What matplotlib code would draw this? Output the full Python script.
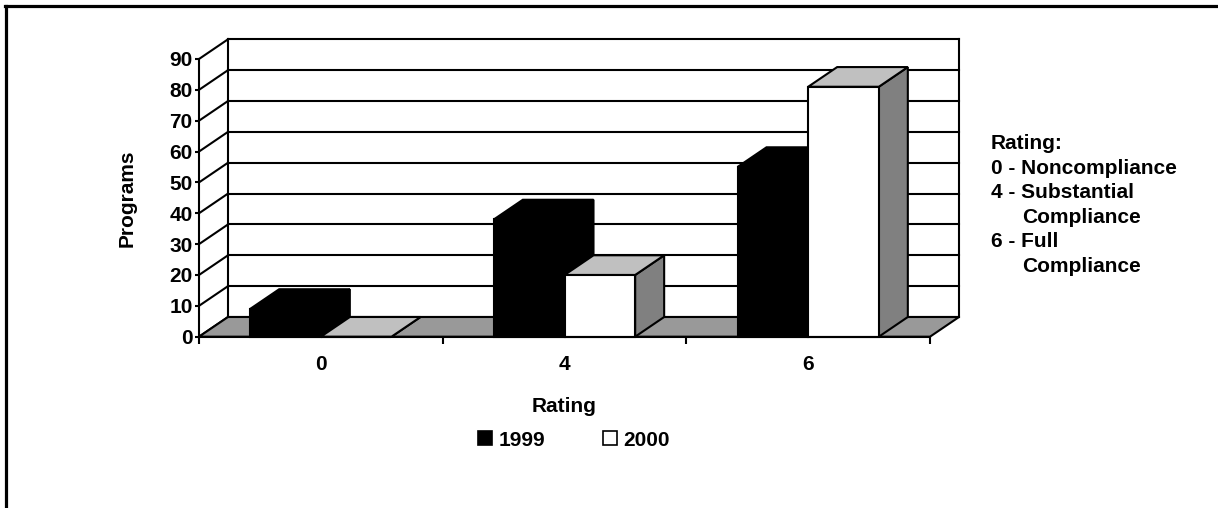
import matplotlib
matplotlib.use("Agg")
import matplotlib.pyplot as plt
from matplotlib.patches import Polygon, Patch
from matplotlib.lines import Line2D

# data
ratings = ["0", "4", "6"]
programs_1999 = [9, 38, 55]
programs_2000 = [0, 20, 81]
series_names = ["1999", "2000"]
notes = ["Rating:", "0 - Noncompliance", "4 - Substantial", "Compliance",
         "6 - Full", "Compliance"]

plt.rcParams['font.family'] = ['Liberation Sans', 'DejaVu Sans']
plt.rcParams['font.weight'] = 'bold'
FS = 15

fig = plt.figure(figsize=(12.18, 5.08), dpi=100)
W, H = 1218, 508
# axes = front plane of the 3d box
ax = fig.add_axes([199 / W, 1 - 336.7 / H, 731 / W, 277.7 / H])
ax.set_xlim(0, 3)
ax.set_ylim(0, 90)
ax.patch.set_visible(False)

# depth offset in data units
DX = 29 / 731 * 3
DY = 19.7 / 277.7 * 90
lw = 1.5

# back wall, side lines
for v in range(0, 91, 10):
    ax.plot([DX, 3 + DX], [v + DY, v + DY], color='black', lw=lw, clip_on=False, zorder=1)
    ax.plot([0, DX], [v, v + DY], color='black', lw=lw, clip_on=False, zorder=1)
ax.plot([DX, DX], [DY, 90 + DY], color='black', lw=lw, clip_on=False, zorder=1)
ax.plot([3 + DX, 3 + DX], [DY, 90 + DY], color='black', lw=lw, clip_on=False, zorder=1)

# floor
floor = Polygon([(0, 0), (3, 0), (3 + DX, DY), (DX, DY)], closed=True,
                facecolor='#999999', edgecolor='black', lw=lw, clip_on=False, zorder=1.5)
ax.add_patch(floor)


def bar3d(x0, w, v, front, top, side, z):
    x1 = x0 + w
    faces = [
        ([(x1, 0), (x1 + DX, DY), (x1 + DX, v + DY), (x1, v)], side),
        ([(x0, v), (x1, v), (x1 + DX, v + DY), (x0 + DX, v + DY)], top),
        ([(x0, 0), (x1, 0), (x1, v), (x0, v)], front),
    ]
    for pts, c in faces:
        ax.add_patch(Polygon(pts, closed=True, facecolor=c, edgecolor='black',
                             lw=lw, clip_on=False, zorder=z, joinstyle='miter'))


bw = 0.29
start = 0.21
z = 3
for i in range(len(ratings)):
    bar3d(i + start, bw, programs_1999[i], 'black', 'black', 'black', z)
    z += 1
    bar3d(i + start + bw, bw, programs_2000[i], 'white', '#c0c0c0', '#808080', z)
    z += 1

# axes, ticks
for s in ['top', 'right']:
    ax.spines[s].set_visible(False)
for s in ['left', 'bottom']:
    ax.spines[s].set_linewidth(lw)
    ax.spines[s].set_zorder(10)
ax.set_yticks(range(0, 91, 10))
ax.tick_params(axis='y', length=3, width=lw, pad=1.5, labelsize=FS)
ax.set_xticks([0, 1, 2, 3])
ax.set_xticklabels([])
ax.tick_params(axis='x', which='major', length=5, width=lw)
ax.set_xticks([0.5, 1.5, 2.5], minor=True)
ax.set_xticklabels(ratings, minor=True, fontsize=FS, fontweight='bold')
ax.tick_params(axis='x', which='minor', length=0, pad=13.5)
for t in ax.get_yticklabels():
    t.set_fontweight('bold')

ax.set_ylabel("Programs", fontsize=FS, fontweight='bold')
ax.yaxis.set_label_coords(-0.0848, 0.5)
ax.set_xlabel("Rating", fontsize=FS, fontweight='bold')
ax.xaxis.set_label_coords(0.5, -0.253)
ax.xaxis.label.set_va('center')

handles = [Patch(facecolor='black', edgecolor='black', lw=1.2),
           Patch(facecolor='white', edgecolor='black', lw=1.2)]
fig.legend(handles, series_names, loc='center', bbox_to_anchor=(574 / W, 1 - 440 / H),
           ncol=2, frameon=False, prop={'size': FS, 'weight': 'bold'},
           handlelength=0.67, handleheight=0.67, handletextpad=0.28, columnspacing=2.8,
           borderpad=0, borderaxespad=0)

# rating notes on the right
xs = [991, 991, 991, 1022, 991, 1022]
for k, (txt, x) in enumerate(zip(notes, xs)):
    fig.text(x / W, 1 - (149 + 24.6 * k) / H, txt, fontsize=FS, fontweight='bold',
             ha='left', va='baseline')

# outer frame (cut at right and bottom)
fig.add_artist(Line2D([5.5 / W, 5.5 / W], [0, 1 - 6.2 / H], color='black', lw=2.3))
fig.add_artist(Line2D([4.5 / W, 1], [1 - 6.2 / H, 1 - 6.2 / H], color='black', lw=2.3))

fig.savefig("out.png", dpi=100)
